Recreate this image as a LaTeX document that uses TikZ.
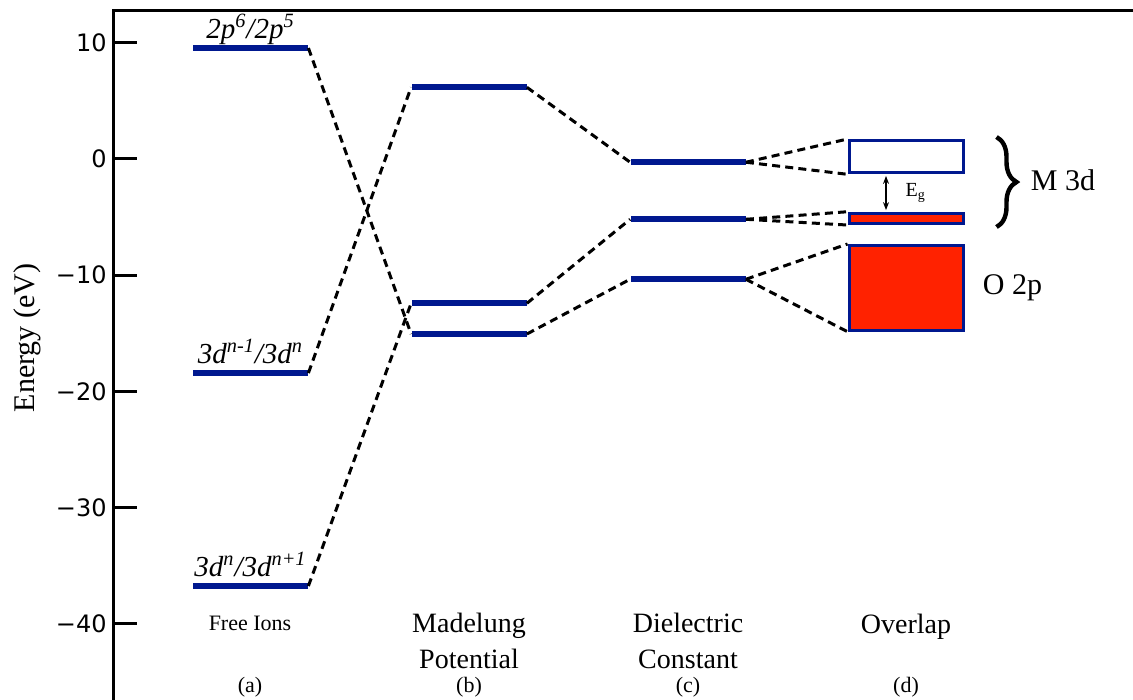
\documentclass[tikz,border=0pt]{standalone}
\usepackage{fontspec}
\setmainfont{Liberation Serif}
\newfontfamily\tickfont{DejaVu Sans}
\usetikzlibrary{arrows.meta,calc,positioning,decorations.pathreplacing}
\definecolor{lvlblue}{RGB}{0,24,143}
\definecolor{bandred}{RGB}{255,34,0}
\tikzset{lvl/.style={fill=lvlblue, inner sep=0pt, minimum width=57.5pt, minimum height=3pt},
  band/.style={draw=lvlblue, line width=1.5pt, inner sep=0pt, minimum width=57pt},
  link/.style={line width=1.5pt, dash pattern=on 4pt off 2.6pt},
  axis/.style={line width=1.5pt},
  orb/.style={font=\fontsize{14.5}{17}\selectfont\itshape, inner sep=0pt, anchor=base},
  colname/.style={font=\fontsize{14}{18}\selectfont, align=center, inner sep=0pt},
  sub/.style={font=\fontsize{11}{13}\selectfont, inner sep=0pt}}

\begin{document}
\begin{tikzpicture}[x=0.5pt, y=5.81pt]
  \useasboundingbox (0,13.683) rectangle (1133,-46.558);
  % frame and energy scale (y in eV)
  \draw[axis] (113,-46.558) -- (113,12.82) -- (1133,12.82);
  \foreach \e/\t in {10/10,0/0,-10/−10,-20/−20,-30/−30,-40/−40}{
    \draw[axis] (113,\e) -- (137,\e);
    \node[font={\tickfont\fontsize{12}{14}\selectfont}, anchor=east, inner sep=0pt] (tick\e) at (107,\e) {\t};}
  \node[rotate=90, font=\fontsize{15}{18}\selectfont] (ylab) at (27,-15.4) {Energy (eV)};
  % levels: (a) free ions, (b) Madelung, (c) dielectric
  \node[lvl] (a1) at (250.5,9.55) {};
  \node[lvl] (a2) at (250.5,-18.42) {};
  \node[lvl] (a3) at (250.5,-36.75) {};
  \node[lvl] (b1) at (469,6.17) {};
  \node[lvl] (b2) at (469,-12.42) {};
  \node[lvl] (b3) at (469,-15.06) {};
  \node[lvl] (c1) at (688,-0.28) {};
  \node[lvl] (c2) at (688,-5.19) {};
  \node[lvl] (c3) at (688,-10.35) {};
  \node[orb] (a1t) at ([yshift=3.25pt]a1.north) {2p\textsuperscript{6}/2p\textsuperscript{5}};
  \node[orb] (a2t) at ([yshift=3.25pt]a2.north) {3d\textsuperscript{n-1}/3d\textsuperscript{n}};
  \node[orb] (a3t) at ([yshift=3.25pt]a3.north) {3d\textsuperscript{n}/3d\textsuperscript{n+1}};
  % (d) bands
  \node[band, minimum height=16.15pt] (d1) at (906,0.2) {};
  \node[band, fill=bandred, minimum height=5.15pt] (d2) at (906,-5.11) {};
  \node[band, fill=bandred, minimum height=42.35pt] (d3) at (906,-11.09) {};
  % dashed correlation lines
  \draw[link] (a1.east) -- (b3.west);
  \draw[link] (a2.east) -- (b1.west);
  \draw[link] (a3.east) -- (b2.west);
  \foreach \p/\q in {b1/c1,b2/c2,b3/c3} \draw[link] (\p.east) -- (\q.west);
  \foreach \p/\q in {c1/d1,c2/d2,c3/d3}{
    \draw[link] (\p.east) -- (\q.north west);
    \draw[link] (\p.east) -- (\q.south west);}
  % gap, brace, band names
  \draw[{Stealth[length=4pt]}-{Stealth[length=4pt]}, line width=0.6pt, shorten <=0.8pt, shorten >=0.8pt]
    ([xshift=-10pt]d1.south) -- ([xshift=-10pt]d2.north)
    node[midway, right=9.5pt, inner sep=0pt, font=\fontsize{10}{12}\selectfont] (eg) {E\textsubscript{g}};
  \draw[line width=2.2pt, decorate, decoration={brace, amplitude=10pt}]
    ($(d1.north east)+(16pt,1pt)$) -- ($(d2.south east)+(16pt,-1pt)$);
  \node[colname, font=\fontsize{15}{18}\selectfont] (m3d) at (1063,-1.81) {M 3d};
  \node[colname, font=\fontsize{15}{18}\selectfont, right=9pt of d3] (o2p) {O 2p};
  % column captions
  \node[colname, font=\fontsize{11}{13}\selectfont] (ta) at (250,-40.0) {Free Ions};
  \node[colname] (tb) at (469,-41.48) {Madelung\\Potential};
  \node[colname] (tc) at (688,-41.48) {Dielectric\\Constant};
  \node[colname] (td) at (906,-40.25) {Overlap};
  \foreach \n/\x/\s in {a/250/(a),b/469/(b),c/688/(c),d/906/(d)}
    \node[sub] (s\n) at (\x,-45.45) {\s};
\end{tikzpicture}
\end{document}
